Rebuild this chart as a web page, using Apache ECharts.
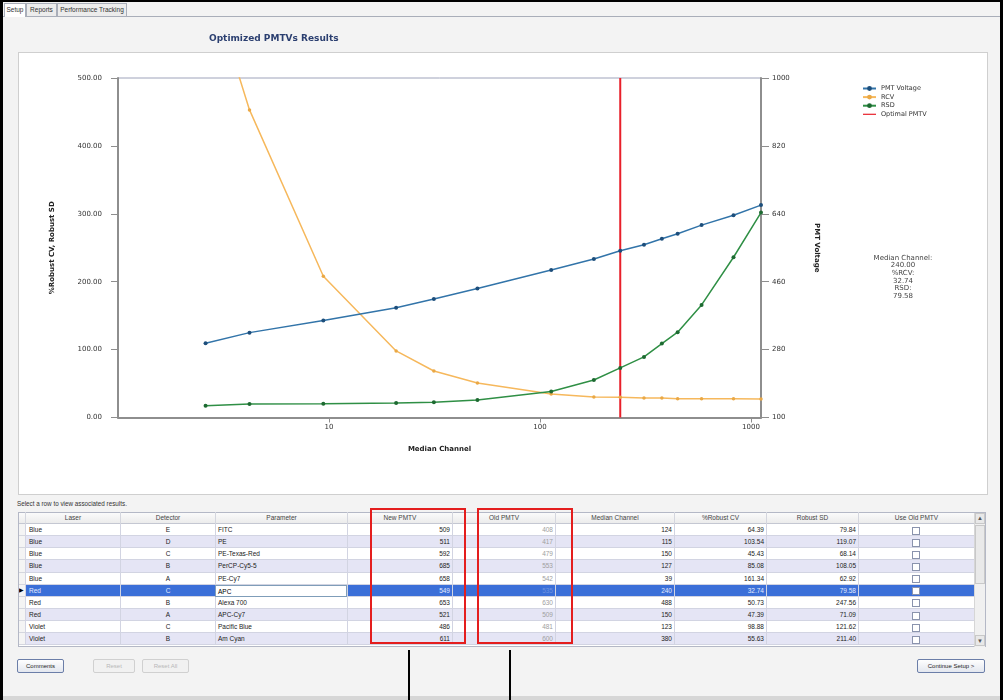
<!DOCTYPE html>
<html><head><meta charset="utf-8">
<script src="https://cdn.jsdelivr.net/npm/echarts@6/dist/echarts.min.js"></script>
<style>
html,body{margin:0;padding:0;width:1003px;height:700px;overflow:hidden;background:#f3f3f3;font-family:"Liberation Sans",Arial,sans-serif;}
.a{position:absolute;box-sizing:border-box;}
#chart{position:absolute;left:0;top:0;width:1003px;height:700px;z-index:5;pointer-events:none;}
.tab{position:absolute;top:3px;height:13px;font-size:6.5px;line-height:12px;text-align:center;border:1px solid #a9aeb9;border-bottom:none;background:#ececec;color:#333;box-sizing:border-box;}
.cell{position:absolute;box-sizing:border-box;font-size:6.5px;line-height:12px;white-space:nowrap;overflow:hidden;color:#222;}
.btn{position:absolute;top:659px;height:14px;font-size:6px;line-height:12px;text-align:center;border-radius:2px;box-sizing:border-box;}
</style></head><body>
<div class="a" style="left:0;top:0;width:1003px;height:2px;background:#000"></div>
<div class="a" style="left:0;top:0;width:3px;height:700px;background:#000"></div>
<div class="a" style="left:1000px;top:0;width:3px;height:700px;background:#000"></div>
<div class="a" style="left:3px;top:16px;width:997px;height:1px;background:#a9aeb9"></div>
<div class="tab" style="left:4px;width:22px;background:#fff;height:14px;">Setup</div>
<div class="tab" style="left:26px;width:31px;">Reports</div>
<div class="tab" style="left:57px;width:70px;">Performance Tracking</div>
<div class="a" style="left:18px;top:52px;width:970px;height:443px;background:#fff;border:1px solid #cfcfcf;"></div>
<div class="a" style="left:3px;top:696px;width:997px;height:4px;background:#d6d6d6"></div>
<div class="a" style="left:17px;top:500px;font-size:6.3px;color:#333;white-space:nowrap;">Select a row to view associated results.</div>
<div id="table"></div>
<div class="btn" style="left:17px;width:47px;border:1px solid #6b7ea8;background:linear-gradient(#fefefe,#e3e7ef);color:#222;">Comments</div>
<div class="btn" style="left:93px;width:42px;border:1px solid #d0d0d0;background:#f1f1f1;color:#b8b8b8;">Reset</div>
<div class="btn" style="left:142px;width:47px;border:1px solid #d0d0d0;background:#f1f1f1;color:#b8b8b8;">Reset All</div>
<div class="btn" style="left:917px;width:68px;border:1px solid #6b7ea8;background:linear-gradient(#fefefe,#e3e7ef);color:#222;">Continue Setup &gt;</div>
<div class="a" style="left:370px;top:508px;width:96px;height:136px;border:2px solid #e41e1e;z-index:3"></div>
<div class="a" style="left:477px;top:508px;width:96px;height:136px;border:2px solid #e41e1e;z-index:3"></div>
<div class="a" style="left:408px;top:650px;width:2px;height:50px;background:#000"></div>
<div class="a" style="left:509px;top:650px;width:2px;height:50px;background:#000"></div>
<div id="chart"></div>
<script>
// ---- chart data ----
const medianChannel = [2.6, 4.2, 9.4, 20.8, 31.4, 50.5, 113, 180, 240, 311, 378, 449, 583, 826, 1115];
const pmtVoltage    = [297, 325, 357, 391, 414, 442, 491, 520, 542, 558, 574, 587, 610, 636, 663];
const rcv           = [660, 453, 208, 98, 68.5, 50.8, 34.5, 30.2, 29.8, 28.7, 28.7, 27.7, 27.7, 27.7, 27.3];
const rsd           = [17.4, 19.9, 20.3, 21.4, 22.4, 25.8, 38.3, 55.3, 73, 89.2, 108.8, 125.6, 165.8, 236, 301.8];
const optimalMedian = 240;
const optimalRCV = '32.74';
const optimalRSD = '79.58';
const leftTicks = [0, 100, 200, 300, 400, 500];
const rightTicks = [100, 280, 460, 640, 820, 1000];

// ---- table data ----
const headers   = ['Laser','Detector','Parameter','New PMTV','Old PMTV','Median Channel','%Robust CV','Robust SD','Use Old PMTV'];
const lasers    = ['Blue','Blue','Blue','Blue','Blue','Red','Red','Red','Violet','Violet'];
const detectors = ['E','D','C','B','A','C','B','A','C','B'];
const parameters= ['FITC','PE','PE-Texas-Red','PerCP-Cy5-5','PE-Cy7','APC','Alexa 700','APC-Cy7','Pacific Blue','Am Cyan'];
const newPMTV   = [509,511,592,685,658,549,653,521,486,611];
const oldPMTV   = [408,417,479,553,542,535,630,509,481,600];
const medianCh  = [124,115,150,127,39,240,488,150,123,380];
const robustCV  = ['64.39','103.54','45.43','85.08','161.34','32.74','50.73','47.39','98.88','55.63'];
const robustSD  = ['79.84','119.07','68.14','108.05','62.92','79.58','247.56','71.09','121.62','211.40'];
const selectedRow = 5;

// build table
(function(){
  const t = document.getElementById('table');
  const cols=[{x:25,w:95,al:'left',p:3},{x:120,w:95,al:'center',p:0},{x:215,w:132,al:'left',p:2},{x:347,w:105,al:'right',p:2},{x:452,w:103,al:'right',p:2},{x:555,w:119,al:'right',p:2},{x:674,w:92,al:'right',p:2},{x:766,w:92,al:'right',p:2},{x:858,w:116,al:'center',p:0}];
  let h='';
  const top=512, hh=12, rh=12.15;
  h+=`<div class="a" style="left:18px;top:${top}px;width:968px;height:${hh+rh*10+1}px;border:1px solid #b4b8c6;background:#fff"></div>`;
  h+=`<div class="a" style="left:19px;top:${top+1}px;width:955px;height:${hh-1}px;background:linear-gradient(#fbfbfb,#ececec);border-bottom:1px solid #c4c7d2"></div>`;
  cols.forEach((c,i)=>{
    h+=`<div class="cell" style="left:${c.x}px;top:${top}px;width:${c.w}px;height:${hh}px;text-align:center;color:#444;border-left:1px solid #d4d6de">${headers[i]}</div>`;
  });
  for(let r=0;r<10;r++){
    const y=top+hh+r*rh;
    const sel=r===selectedRow;
    const bg=sel?'#3b6fd8':(r%2===1?'#e5e5f5':'#ffffff');
    h+=`<div class="a" style="left:19px;top:${y}px;width:6px;height:${rh}px;background:#f4f4f4;border-bottom:1px solid #d4d6de"></div>`;
    if(sel) h+=`<div class="cell" style="left:19px;top:${y-0.5}px;width:6px;font-size:6px;color:#000">&#9654;</div>`;
    h+=`<div class="a" style="left:25px;top:${y}px;width:949px;height:${rh}px;background:${bg};border-bottom:1px solid #d2d4e2"></div>`;
    const vals=[lasers[r],detectors[r],parameters[r],newPMTV[r],oldPMTV[r],medianCh[r],robustCV[r],robustSD[r],''];
    cols.forEach((c,i)=>{
      let color=sel?'#e4ecff':'#222';
      if(i===4) color=sel?'#6f93e0':'#a0a0a0';
      let extra='';
      if(sel&&i===2){extra='background:#fff;border:1px solid #7f9db9;';color='#000';}
      const pad=c.al==='left'?`padding-left:${c.p}px;`:(c.al==='right'?`padding-right:${c.p}px;`:'');
      h+=`<div class="cell" style="left:${c.x}px;top:${y}px;width:${c.w}px;height:${rh}px;text-align:${c.al};${pad}color:${color};border-left:1px solid #d2d4e2;${extra}">${vals[i]}</div>`;
    });
    h+=`<div class="a" style="left:${858+54}px;top:${y+2.5}px;width:8px;height:8px;border:1px solid #8a93ad;background:#fff"></div>`;
  }
  // scrollbar
  h+=`<div class="a" style="left:974px;top:${top+1}px;width:11px;height:${hh+rh*10}px;background:#f0f0f0;border-left:1px solid #d6d6d6"></div>`;
  h+=`<div class="a" style="left:975px;top:${top+1}px;width:10px;height:11px;background:#e8e8e8;border:1px solid #c8c8c8;font-size:6px;line-height:9px;text-align:center;color:#555">&#9650;</div>`;
  h+=`<div class="a" style="left:975px;top:${top+13}px;width:10px;height:59px;background:#e9e9e9;border:1px solid #c8c8c8"></div>`;
  h+=`<div class="a" style="left:975px;top:${top+hh+rh*10-11}px;width:10px;height:11px;background:#e8e8e8;border:1px solid #c8c8c8;font-size:6px;line-height:10px;text-align:center;color:#555">&#9660;</div>`;
  t.innerHTML=h;
})();

// build chart
const chart = echarts.init(document.getElementById('chart'), null, {renderer:'canvas'});
const zip = (xs, ys) => xs.map((x, i) => [x, ys[i]]);
const axisGrey = '#8e8e8e';
const lbl = {fontFamily:'DejaVu Sans', fontSize:7, color:'#333'};
const nameStyle = {fontFamily:'DejaVu Sans', fontSize:7, fontWeight:'bold', color:'#222'};
chart.setOption({
  animation:false,
  title:{text:'Optimized PMTVs Results', left:204, top:29, textStyle:{fontFamily:'DejaVu Sans', fontSize:9, fontWeight:'bold', color:'#2b3f70'}},
  legend:{orient:'vertical', left:857, top:80, itemWidth:13, itemHeight:6, itemGap:1.6,
    textStyle:{fontFamily:'DejaVu Sans', fontSize:6.5, color:'#333'},
    data:['PMT Voltage','RCV','RSD',{name:'Optimal PMTV', icon:'path://M0,2.4L13,2.4L13,3.6L0,3.6Z'}]},
  grid:{left:118, right:242, top:78, bottom:282.5, show:true, borderColor:'#9ea3ba', borderWidth:1},
  xAxis:{type:'log', logBase:10, min:1, max:1115, name:'Median Channel', nameLocation:'middle', nameGap:28, nameTextStyle:nameStyle,
    axisLine:{lineStyle:{color:axisGrey, width:2}}, axisTick:{length:5, lineStyle:{color:axisGrey}},
    axisLabel:Object.assign({showMinLabel:false, showMaxLabel:false, margin:6, formatter:v=>String(Math.round(v))}, lbl),
    splitLine:{show:false}, minorTick:{show:false}, minorSplitLine:{show:false}},
  yAxis:[
    {type:'value', position:'left', min:leftTicks[0], max:leftTicks[leftTicks.length-1], interval:leftTicks[1]-leftTicks[0],
      name:'%Robust CV, Robust SD', nameLocation:'middle', nameGap:62, nameRotate:90, nameTextStyle:nameStyle,
      axisLine:{show:true, lineStyle:{color:axisGrey, width:2}}, axisTick:{show:true, length:7, lineStyle:{color:axisGrey}},
      axisLabel:Object.assign({margin:16, formatter:v=>v.toFixed(2)}, lbl), splitLine:{show:false}},
    {type:'value', position:'right', min:rightTicks[0], max:rightTicks[rightTicks.length-1], interval:rightTicks[1]-rightTicks[0],
      name:'PMT Voltage', nameLocation:'middle', nameGap:52, nameRotate:-90, nameTextStyle:nameStyle,
      axisLine:{show:true, lineStyle:{color:axisGrey, width:2}}, axisTick:{show:true, length:8, lineStyle:{color:axisGrey}},
      axisLabel:Object.assign({margin:11, formatter:v=>String(v)}, lbl), splitLine:{show:false}}
  ],
  graphic:[{type:'text', x:903, y:254, z:10,
    style:{text:['Median Channel:', optimalMedian.toFixed(2), '%RCV:', optimalRCV, 'RSD:', optimalRSD].join('\n'),
      align:'center', fontFamily:'DejaVu Sans', fontSize:7, lineHeight:7.7, fill:'#444'}}],
  series:[
    {name:'Optimal PMTV', type:'line', yAxisIndex:0, z:1, data:[[optimalMedian, leftTicks[0]],[optimalMedian, leftTicks[leftTicks.length-1]]],
      symbol:'none', lineStyle:{color:'#e8202a', width:2}, itemStyle:{color:'#e8202a'}},
    {name:'PMT Voltage', type:'line', yAxisIndex:1, z:3, data:zip(medianChannel, pmtVoltage), symbol:'circle', symbolSize:4,
      lineStyle:{color:'#3274a9', width:1.5}, itemStyle:{color:'#1d4e7b'}},
    {name:'RCV', type:'line', yAxisIndex:0, z:2, data:zip(medianChannel, rcv), symbol:'circle', symbolSize:3.5,
      lineStyle:{color:'#f6b85c', width:1.5}, itemStyle:{color:'#eaa845'}},
    {name:'RSD', type:'line', yAxisIndex:0, z:3, data:zip(medianChannel, rsd), symbol:'circle', symbolSize:4,
      lineStyle:{color:'#2f8f45', width:1.5}, itemStyle:{color:'#1d6a31'}}
  ]
});
</script>
</body></html>
